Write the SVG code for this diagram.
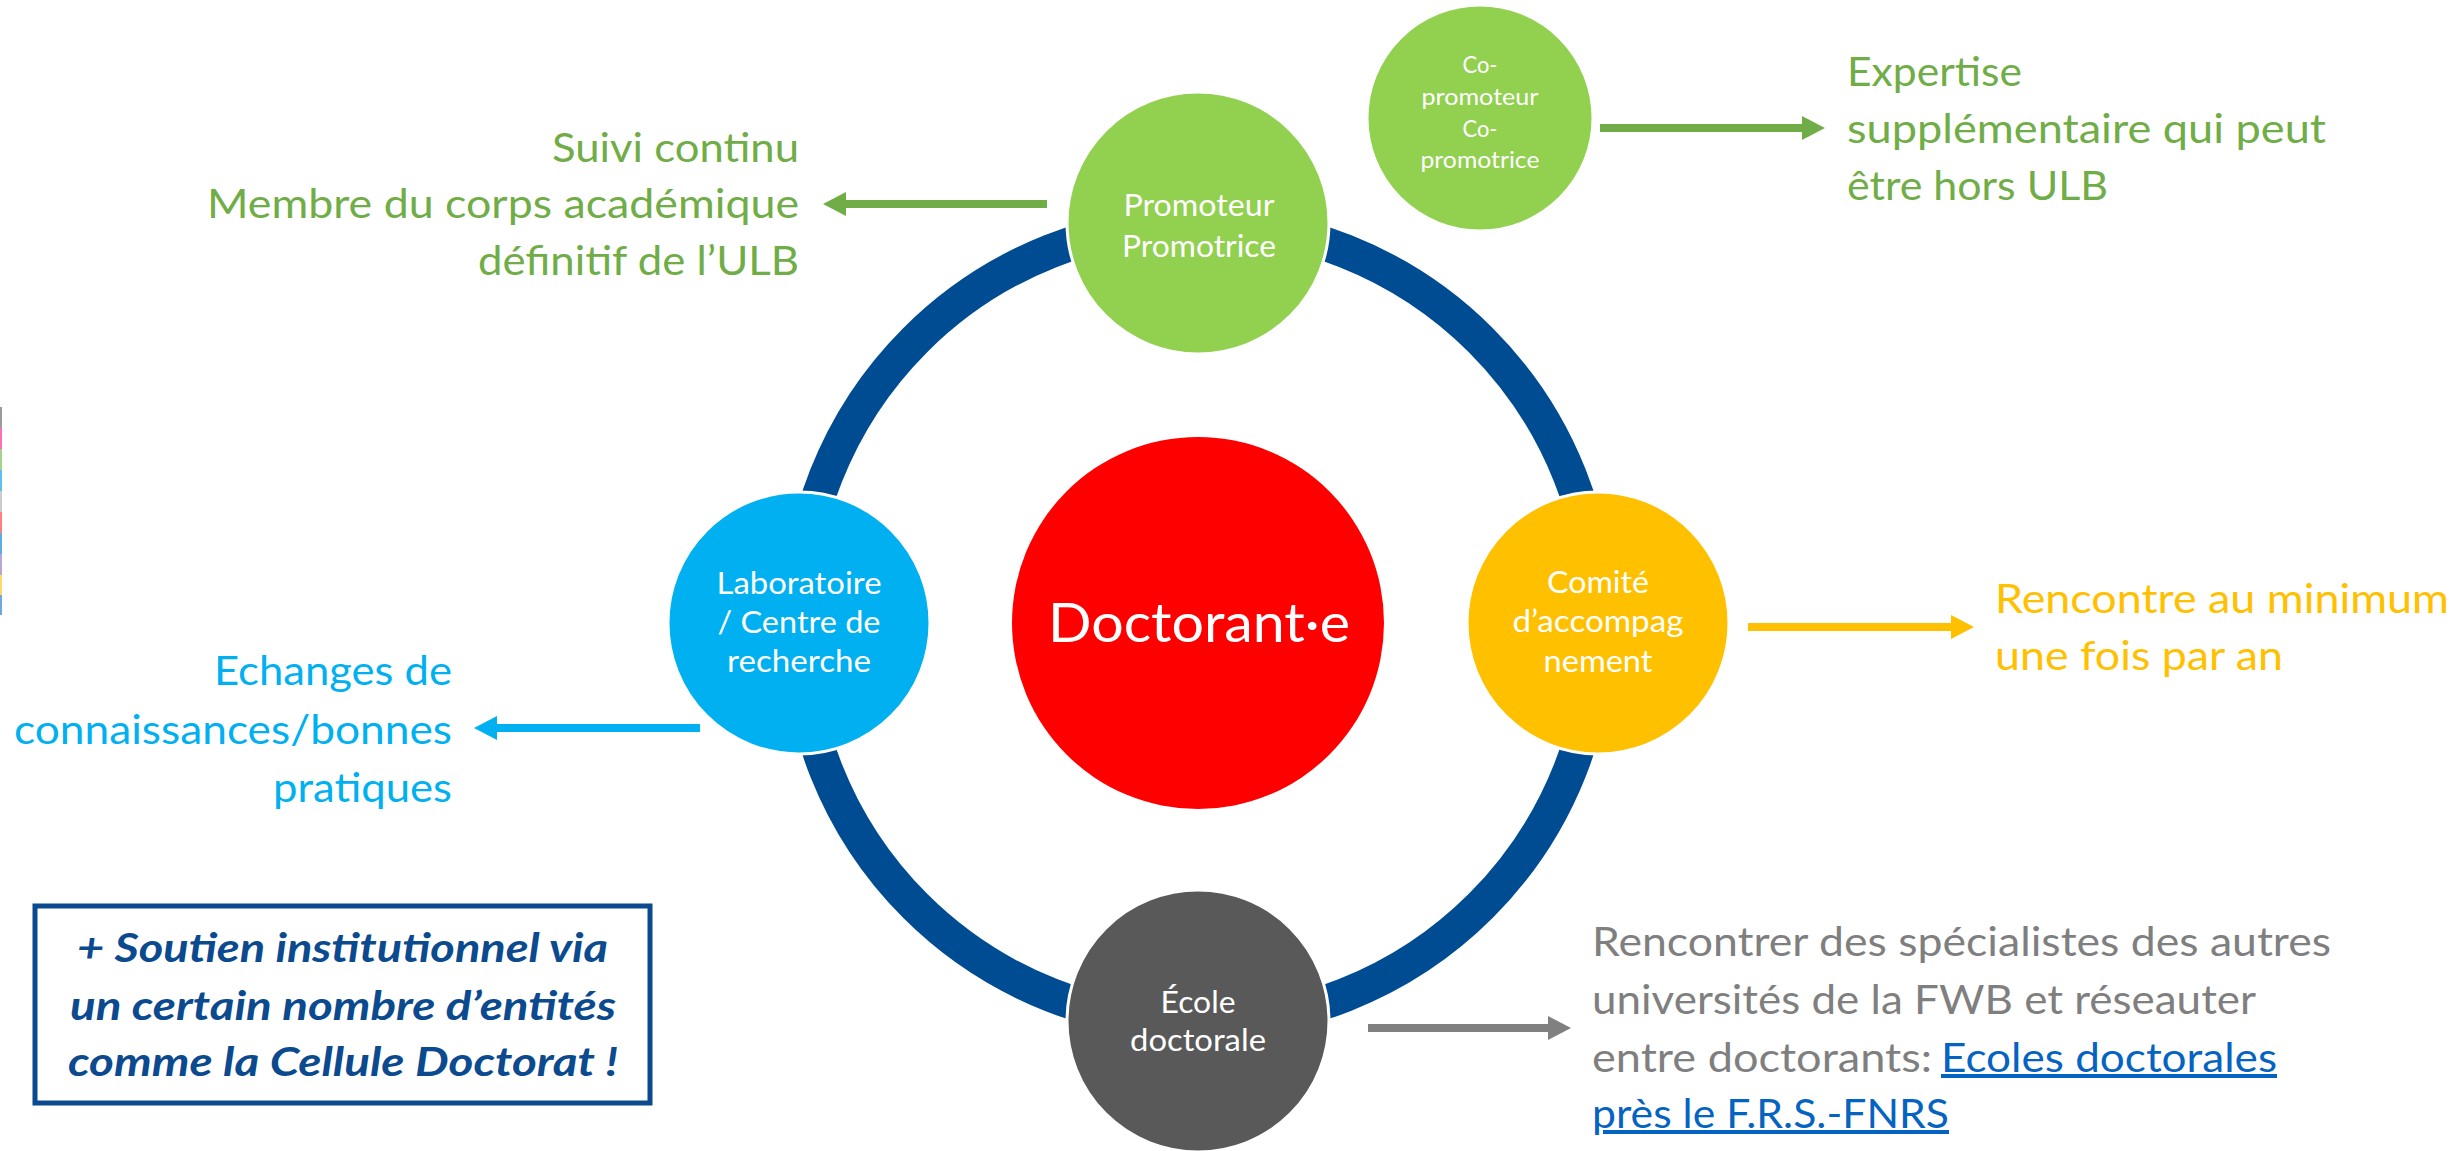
<svg xmlns="http://www.w3.org/2000/svg" width="2461" height="1151" viewBox="0 0 2461 1151">
<style>
text{font-family:Lato,"Open Sans","Liberation Sans",sans-serif}
.node{stroke:#ffffff;stroke-width:3}
.nl{fill:#ffffff;font-size:31px}
.sm{font-size:22.5px}
.side{font-size:40px}
.g{fill:#70AD47}
.b{fill:#00B0F0}
.y{fill:#FFC000}
.gr{fill:#7F7F7F}
.link{fill:#0563C1;text-decoration:underline}
.conn{stroke-width:8;fill:none}
.box{font-size:40px;font-weight:bold;font-style:italic;fill:#0B4A8F}
</style>
<defs>
<marker id="mg" markerUnits="userSpaceOnUse" viewBox="0 0 23 24" markerWidth="23" markerHeight="24" refX="0" refY="12" orient="auto"><path d="M0,0 L23,12 L0,24 z" fill="#70AD47"/></marker>
<marker id="mb" markerUnits="userSpaceOnUse" viewBox="0 0 23 24" markerWidth="23" markerHeight="24" refX="0" refY="12" orient="auto"><path d="M0,0 L23,12 L0,24 z" fill="#00B0F0"/></marker>
<marker id="my" markerUnits="userSpaceOnUse" viewBox="0 0 23 24" markerWidth="23" markerHeight="24" refX="0" refY="12" orient="auto"><path d="M0,0 L23,12 L0,24 z" fill="#FFC000"/></marker>
<marker id="mgr" markerUnits="userSpaceOnUse" viewBox="0 0 23 24" markerWidth="23" markerHeight="24" refX="0" refY="12" orient="auto"><path d="M0,0 L23,12 L0,24 z" fill="#808080"/></marker>
</defs>
<rect width="2461" height="1151" fill="#ffffff"/>
<g id="edge-stripe">
<rect x="0" y="407" width="2" height="21" fill="#9a9a9a"/>
<rect x="0" y="428" width="2" height="21" fill="#ff6fb5"/>
<rect x="0" y="449" width="2" height="21" fill="#a9d18e"/>
<rect x="0" y="470" width="2" height="21" fill="#5bc0eb"/>
<rect x="0" y="491" width="2" height="21" fill="#cccccc"/>
<rect x="0" y="512" width="2" height="21" fill="#ff7f7f"/>
<rect x="0" y="533" width="2" height="21" fill="#5dade2"/>
<rect x="0" y="554" width="2" height="21" fill="#b4a7d6"/>
<rect x="0" y="575" width="2" height="20" fill="#ffd966"/>
<rect x="0" y="595" width="2" height="20" fill="#6fa8dc"/>
</g>
<g id="ring"><circle cx="1198" cy="623" r="400" fill="none" stroke="#004C93" stroke-width="34"/></g>
<g id="connectors">
<line class="conn" x1="1047" y1="204" x2="846" y2="204" stroke="#70AD47" marker-end="url(#mg)"/>
<line class="conn" x1="1600" y1="128" x2="1802" y2="128" stroke="#70AD47" marker-end="url(#mg)"/>
<line class="conn" x1="700" y1="728" x2="497" y2="728" stroke="#00B0F0" marker-end="url(#mb)"/>
<line class="conn" x1="1748" y1="627" x2="1951" y2="627" stroke="#FFC000" marker-end="url(#my)"/>
<line class="conn" x1="1368" y1="1028" x2="1548" y2="1028" stroke="#808080" marker-end="url(#mgr)"/>
</g>
<g id="doctorant">
<circle cx="1198" cy="623" r="186" fill="#FF0000"/>
<text x="1048" y="642" fill="#ffffff" font-size="55" textLength="302" lengthAdjust="spacingAndGlyphs">Doctorant·e</text>
</g>
<g id="promoteur">
<circle class="node" cx="1198" cy="223" r="131" fill="#92D050"/>
<text class="nl" x="1123.5" y="216" textLength="151" lengthAdjust="spacingAndGlyphs">Promoteur</text>
<text class="nl" x="1122" y="257" textLength="154" lengthAdjust="spacingAndGlyphs">Promotrice</text>
</g>
<g id="copromoteur">
<circle class="node" cx="1480" cy="118" r="113" fill="#92D050"/>
<text class="nl sm" x="1462.5" y="73" textLength="35" lengthAdjust="spacingAndGlyphs">Co-</text>
<text class="nl sm" x="1421.5" y="105" textLength="117" lengthAdjust="spacingAndGlyphs">promoteur</text>
<text class="nl sm" x="1462.5" y="137" textLength="35" lengthAdjust="spacingAndGlyphs">Co-</text>
<text class="nl sm" x="1420.5" y="168" textLength="119" lengthAdjust="spacingAndGlyphs">promotrice</text>
</g>
<g id="laboratoire">
<circle class="node" cx="799" cy="623" r="131" fill="#00B0F0"/>
<text class="nl" x="716.5" y="594" textLength="165" lengthAdjust="spacingAndGlyphs">Laboratoire</text>
<text class="nl" x="717.5" y="633" textLength="163" lengthAdjust="spacingAndGlyphs">/ Centre de</text>
<text class="nl" x="727" y="672" textLength="144" lengthAdjust="spacingAndGlyphs">recherche</text>
</g>
<g id="comite">
<circle class="node" cx="1598" cy="623" r="131" fill="#FFC000"/>
<text class="nl" x="1547" y="593" textLength="102" lengthAdjust="spacingAndGlyphs">Comité</text>
<text class="nl" x="1512.5" y="632" textLength="171" lengthAdjust="spacingAndGlyphs">d’accompag</text>
<text class="nl" x="1543.5" y="672" textLength="109" lengthAdjust="spacingAndGlyphs">nement</text>
</g>
<g id="ecole">
<circle class="node" cx="1198" cy="1021" r="131" fill="#595959"/>
<text class="nl" x="1160.5" y="1013" textLength="75" lengthAdjust="spacingAndGlyphs">École</text>
<text class="nl" x="1130" y="1051" textLength="136" lengthAdjust="spacingAndGlyphs">doctorale</text>
</g>
<g id="label-promoteur">
<text class="side g" x="552" y="162" textLength="247" lengthAdjust="spacingAndGlyphs">Suivi continu</text>
<text class="side g" x="207" y="218" textLength="592" lengthAdjust="spacingAndGlyphs">Membre du corps académique</text>
<text class="side g" x="478" y="275" textLength="321" lengthAdjust="spacingAndGlyphs">définitif de l’ULB</text>
</g>
<g id="label-copromoteur">
<text class="side g" x="1847" y="86" textLength="175" lengthAdjust="spacingAndGlyphs">Expertise</text>
<text class="side g" x="1847" y="143" textLength="479" lengthAdjust="spacingAndGlyphs">supplémentaire qui peut</text>
<text class="side g" x="1847" y="200" textLength="261" lengthAdjust="spacingAndGlyphs">être hors ULB</text>
</g>
<g id="label-labo">
<text class="side b" x="214" y="685" textLength="238" lengthAdjust="spacingAndGlyphs">Echanges de</text>
<text class="side b" x="14" y="744" textLength="438" lengthAdjust="spacingAndGlyphs">connaissances/bonnes</text>
<text class="side b" x="273" y="802" textLength="179" lengthAdjust="spacingAndGlyphs">pratiques</text>
</g>
<g id="label-comite">
<text class="side y" x="1995" y="613" textLength="454" lengthAdjust="spacingAndGlyphs">Rencontre au minimum</text>
<text class="side y" x="1995" y="670" textLength="288" lengthAdjust="spacingAndGlyphs">une fois par an</text>
</g>
<g id="label-ecole">
<text class="side gr" x="1592" y="956" textLength="739" lengthAdjust="spacingAndGlyphs">Rencontrer des spécialistes des autres</text>
<text class="side gr" x="1592" y="1014" textLength="664" lengthAdjust="spacingAndGlyphs">universités de la FWB et réseauter</text>
<text class="side gr" x="1592" y="1072" textLength="340" lengthAdjust="spacingAndGlyphs">entre doctorants:</text>
<text class="side link" x="1941" y="1072" textLength="336" lengthAdjust="spacingAndGlyphs">Ecoles doctorales</text>
<text class="side link" x="1592" y="1128" textLength="357" lengthAdjust="spacingAndGlyphs">près le F.R.S.-FNRS</text>
</g>
<g id="soutien-box">
<rect x="35" y="906" width="615" height="197" fill="#ffffff" stroke="#0B4A8F" stroke-width="5"/>
<text class="box" x="77" y="962" textLength="531" lengthAdjust="spacingAndGlyphs">+ Soutien institutionnel via</text>
<text class="box" x="70" y="1020" textLength="546" lengthAdjust="spacingAndGlyphs">un certain nombre d’entités</text>
<text class="box" x="68" y="1076" textLength="550" lengthAdjust="spacingAndGlyphs">comme la Cellule Doctorat !</text>
</g>
</svg>
